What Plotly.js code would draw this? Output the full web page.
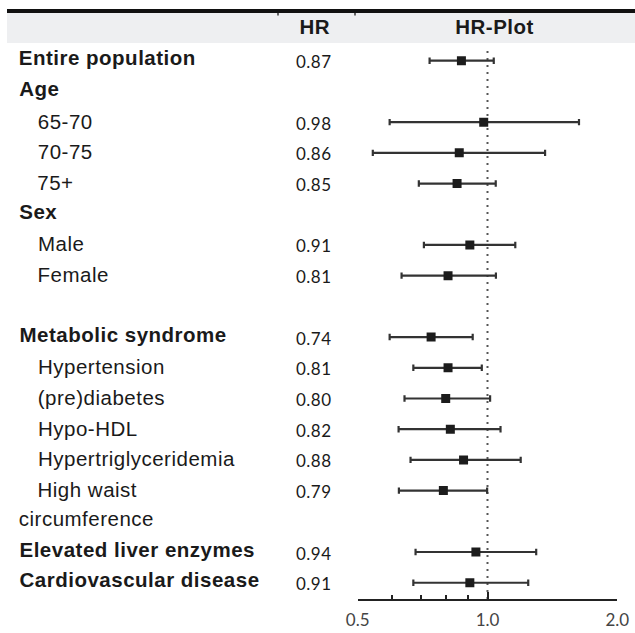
<!DOCTYPE html>
<html>
<head>
<meta charset="utf-8">
<script src="https://cdn.plot.ly/plotly-3.0.1.min.js"></script>
<style>
html,body{margin:0;padding:0;background:#fff;}
#chart{width:635px;height:633px;}
#chart .annotation-text{letter-spacing:0.5px;}
</style>
</head>
<body>
<div id="chart"></div>
<script>
// ---- data ----
var rowLabels = ["Entire population","Age","65-70","70-75","75+","Sex","Male","Female","",
  "Metabolic syndrome","Hypertension","(pre)diabetes","Hypo-HDL","Hypertriglyceridemia",
  "High waist","circumference","Elevated liver enzymes","Cardiovascular disease"];
var rowType = ["main","main","sub","sub","sub","main","sub","sub","blank",
  "main","sub","sub","sub","sub","sub","cont","main","main"];

var subgroups = ["Entire population","65-70","70-75","75+","Male","Female","Metabolic syndrome",
  "Hypertension","(pre)diabetes","Hypo-HDL","Hypertriglyceridemia","High waist circumference",
  "Elevated liver enzymes","Cardiovascular disease"];
var subgroupRow = [0,2,3,4,6,7,9,10,11,12,13,14,16,17];
var hr    = [0.87,0.98,0.86,0.85,0.91,0.81,0.74,0.81,0.80,0.82,0.88,0.79,0.94,0.91];
var lower = [0.734,0.593,0.542,0.693,0.712,0.632,0.593,0.673,0.642,0.622,0.663,0.623,0.681,0.673];
var upper = [1.034,1.63,1.36,1.045,1.16,1.046,0.924,0.97,1.014,1.072,1.194,0.998,1.297,1.243];
var majorTicks = [0.5,1.0,2.0];
var majorTickText = ["0.5","1.0","2.0"];
var minorTicks = [0.6,0.7,0.8,0.9];
var headers = ["HR","HR-Plot"];

// ---- layout helpers (pixel -> paper) ----
var W = 635, H = 633;
var LS = 0.5; // css letter-spacing on annotation text
function px(x){ return x / W; }
function py(y){ return 1 - y / H; }
function lsShift(s){ return LS * s.length / 2; }

var plusErr = hr.map(function(v,i){ return upper[i]-v; });
var minusErr = hr.map(function(v,i){ return v-lower[i]; });

var trace = {
  type:'scatter', mode:'markers',
  x: hr, y: subgroupRow, text: subgroups,
  marker:{symbol:'square', size:9, color:'#1c1c1c'},
  error_x:{type:'data', symmetric:false, array:plusErr, arrayminus:minusErr,
    color:'#333', thickness:2.2, width:3.2},
  hoverinfo:'text+x', showlegend:false
};

var annotations = [];
var labelFont = 'Liberation Sans, Arial, sans-serif';
rowLabels.forEach(function(lab,i){
  if(!lab) return;
  var t = rowType[i];
  var bold = (t==='main');
  var x0 = (t==='sub') ? 35.5 : 17;
  annotations.push({
    xref:'paper', yref:'y', x:px(x0), y:i, xanchor:'left', yanchor:'middle',
    text: bold ? '<b>'+lab+'</b>' : lab, showarrow:false,
    xshift: lsShift(lab),
    yshift: bold ? 3 : (t==='cont' ? 3 : 1),
    font:{family:labelFont, size:20.5, color:'#1a1a1a'}
  });
});
hr.forEach(function(v,i){
  var s = v.toFixed(2);
  annotations.push({
    xref:'paper', yref:'y', x:px(294), y:subgroupRow[i], xanchor:'left', yanchor:'middle',
    text: s, showarrow:false, yshift:-1, xshift: lsShift(s),
    font:{family:'Lato, sans-serif', size:17, color:'#1a1a1a'}
  });
});
annotations.push({xref:'paper', yref:'paper', x:px(315), y:py(27), xanchor:'center', yanchor:'middle',
  text:'<b>'+headers[0]+'</b>', showarrow:false, font:{family:labelFont, size:20.5, color:'#1a1a1a'}});
annotations.push({xref:'paper', yref:'paper', x:px(494), y:py(27), xanchor:'center', yanchor:'middle',
  text:'<b>'+headers[1]+'</b>', showarrow:false, font:{family:labelFont, size:20.5, color:'#1a1a1a'}});

var shapes = [
  // header band
  {type:'rect', xref:'paper', yref:'paper', x0:px(7), x1:1, y0:py(43), y1:py(13),
    fillcolor:'#eeeff1', line:{width:0}, layer:'below'},
  // thick top rule
  {type:'line', xref:'paper', yref:'paper', x0:px(7), x1:1, y0:py(11), y1:py(11),
    line:{color:'#111', width:4}},
  // small separators under rule
  {type:'line', xref:'paper', yref:'paper', x0:px(278), x1:px(278), y0:py(13), y1:py(15.5), line:{color:'#333', width:1.5}},
  {type:'line', xref:'paper', yref:'paper', x0:px(355), x1:px(355), y0:py(13), y1:py(15.5), line:{color:'#333', width:1.5}},
  // reference line at HR = 1
  {type:'line', xref:'x', yref:'paper', x0:1, x1:1, y0:py(599), y1:py(48),
    line:{color:'#555', width:2, dash:'2px,5px'}, layer:'below'}
];

var layout = {
  width:W, height:H,
  margin:{l:0,r:0,t:0,b:0},
  paper_bgcolor:'#fff', plot_bgcolor:'rgba(0,0,0,0)',
  xaxis:{
    type:'log', domain:[px(357.7), px(617.3)],
    range:[Math.log10(0.5), Math.log10(2.0)],
    tickvals:majorTicks, ticktext:majorTickText,
    ticks:'inside', ticklen:7, tickwidth:2, tickcolor:'#222',
    minor:{tickvals:minorTicks, ticks:'inside', ticklen:4, tickwidth:2, tickcolor:'#222', showgrid:false},
    showline:true, linecolor:'#222', linewidth:2,
    showgrid:false, zeroline:false,
    ticklabelstandoff:5,
    tickfont:{family:'Lato, sans-serif', size:17, color:'#444'},
    fixedrange:true
  },
  yaxis:{
    domain:[py(599), py(43)],
    range:[17.53, -0.577],
    showgrid:false, zeroline:false, showline:false, showticklabels:false, ticks:'',
    fixedrange:true
  },
  annotations:annotations,
  shapes:shapes,
  showlegend:false
};

Plotly.newPlot('chart',[trace],layout,{displayModeBar:false, staticPlot:true});
</script>
</body>
</html>
